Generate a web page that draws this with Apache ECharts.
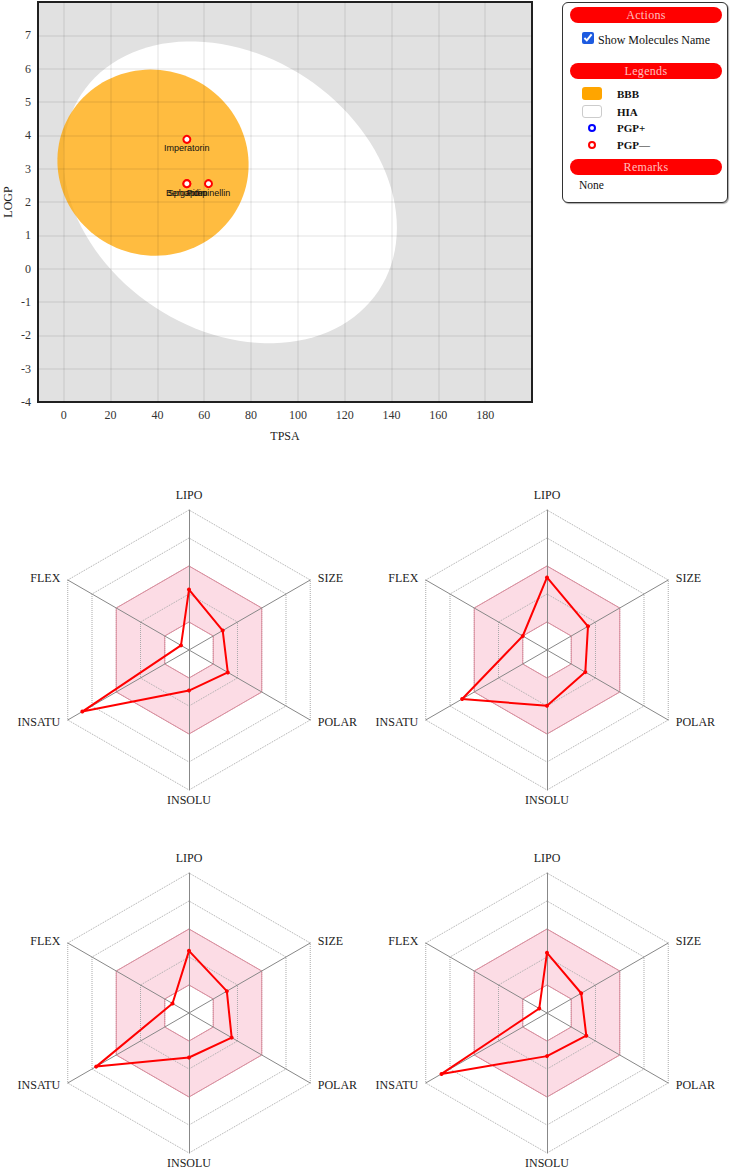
<!DOCTYPE html>
<html>
<head>
<meta charset="utf-8">
<title>BOILED-Egg and bioavailability radar</title>
<script src="https://cdn.jsdelivr.net/npm/echarts@6/dist/echarts.min.js"></script>
<style>
  html, body { margin: 0; padding: 0; background: #fff; }
  #chart { position: absolute; left: 0; top: 0; width: 730px; height: 1169px; }
  .panel {
    position: absolute; left: 562px; top: 2px; width: 166px; height: 201px;
    box-sizing: border-box; border: 1px solid #333; border-radius: 6px;
    box-shadow: 1px 1px 1px rgba(0, 0, 0, 0.35);
    background: #fff; color: #111;
    font-family: 'Liberation Serif', 'DejaVu Serif', serif; font-size: 11px;
  }
  .panel .bar {
    position: absolute; left: 7px; width: 152px; height: 16px; line-height: 16px;
    border-radius: 8px; background: #ff0000; color: rgba(255, 255, 255, 0.75);
    text-align: center; font-size: 12px; letter-spacing: 0.3px;
  }
  .panel .row { position: absolute; line-height: 14px; white-space: nowrap; }
  .panel .b { font-weight: bold; }
  .panel input { position: absolute; left: 19px; top: 29px; width: 12px; height: 12px; margin: 0; accent-color: #1d5be0; }
  .swatch { position: absolute; left: 19px; width: 20px; height: 13px; box-sizing: border-box; border-radius: 3px; }
  .ring { position: absolute; left: 25px; width: 8px; height: 8px; box-sizing: border-box; border-radius: 50%; border: 2px solid; background: #fff; }
</style>
</head>
<body>
<div id="chart"></div>

<div class="panel">
  <div class="bar" style="top:4px">Actions</div>
  <input type="checkbox" id="showNames" checked>
  <label class="row" for="showNames" style="left:35px;top:30px;font-size:12px">Show Molecules Name</label>

  <div class="bar" style="top:60px">Legends</div>
  <div class="swatch" style="top:84px;background:#ffa500"></div>
  <div class="row b" style="left:54px;top:84px">BBB</div>
  <div class="swatch" style="top:102px;background:#fff;border:1px solid #ccc"></div>
  <div class="row b" style="left:54px;top:102px">HIA</div>
  <div class="ring" style="top:121px;border-color:#0000ff"></div>
  <div class="row b" style="left:54px;top:118px">PGP+</div>
  <div class="ring" style="top:138px;border-color:#ff0000"></div>
  <div class="row b" style="left:54px;top:135px">PGP—</div>

  <div class="bar" style="top:156px">Remarks</div>
  <div class="row" style="left:16px;top:175px;font-size:11.5px">None</div>
</div>

<script>
// molecules placed on the egg
const molNames = ['Imperatorin', 'Bergapten', 'Sphondin', 'Pimpinellin']
const molTpsa = [52.58, 52.58, 52.58, 61.81]
const molLogp = [3.88, 2.55, 2.55, 2.55]

// egg regions: centre TPSA, centre LOGP, half axis (TPSA), half axis (LOGP), tilt deg
const hiaEllipse = [71.05, 2.29, 76.1, 4.12, 33.5]
const bbbEllipse = [38.12, 3.18, 41.0, 2.78, 20]

// radar axes in the order echarts lays them out (counter-clockwise from top)
const radarAxes = ['LIPO', 'FLEX', 'INSATU', 'INSOLU', 'POLAR', 'SIZE']
const radarMol1 = [2.16, 0.33, 4.40, 1.45, 1.60, 1.39]
const radarMol2 = [2.59, 1.00, 3.50, 1.99, 1.58, 1.69]
const radarMol3 = [2.22, 0.68, 3.83, 1.59, 1.76, 1.56]
const radarMol4 = [2.15, 0.32, 4.35, 1.54, 1.62, 1.41]

const SERIF = "'Liberation Serif', 'DejaVu Serif', serif"
const SANS = "'Liberation Sans', Arial, sans-serif"
const PINK = 'rgba(236, 60, 110, 0.18)'
const ROSE = '#de8a9c'
const NONE = 'rgba(0,0,0,0)'

const chart = echarts.init(document.getElementById('chart'), null, { renderer: 'svg' })

// ellipse drawn in pixel space so the tilt is the on-screen one
function renderEllipse (params, api) {
  const c = api.coord([api.value(0), api.value(1)])
  const s = api.size([api.value(2), api.value(3)])
  const rot = api.value(4) * Math.PI / 180
  const pts = []
  for (let i = 0; i < 120; i++) {
    const t = i / 120 * Math.PI * 2
    const ex = s[0] * Math.cos(t)
    const ey = s[1] * Math.sin(t)
    pts.push([
      c[0] + ex * Math.cos(rot) - ey * Math.sin(rot),
      c[1] + ex * Math.sin(rot) + ey * Math.cos(rot)
    ])
  }
  return { type: 'polygon', shape: { points: pts }, style: api.style() }
}

const radarCenters = [[189, 650], [547, 650], [189, 1013], [547, 1013]]
const radarValues = [radarMol1, radarMol2, radarMol3, radarMol4]
const indicator = radarAxes.map(n => ({ name: n, min: 0, max: 5 }))

const radars = []
radarCenters.forEach(center => {
  radars.push({
    center, radius: 140, startAngle: 90, splitNumber: 5, shape: 'polygon',
    indicator,
    nameGap: 4,
    axisName: { color: '#222', fontFamily: SERIF, fontSize: 12, lineHeight: 12, padding: [0, 4, 5, 4] },
    axisLine: { lineStyle: { color: '#888', width: 1 } },
    splitLine: { lineStyle: { color: '#aaa', type: 'dotted', width: 1 } },
    splitArea: { show: true, areaStyle: { color: [NONE, PINK, PINK, NONE, NONE] } }
  })
  // rose borders of the optimal band
  radars.push({
    center, radius: 140, startAngle: 90, splitNumber: 5, shape: 'polygon',
    indicator,
    axisName: { show: false },
    axisLine: { show: false },
    splitArea: { show: false },
    splitLine: { lineStyle: { color: [NONE, ROSE, NONE, ROSE, NONE, NONE], width: 1 } }
  })
})

const radarSeries = radarValues.map((vals, i) => ({
  type: 'radar',
  radarIndex: i * 2,
  z: 5,
  symbol: 'circle',
  symbolSize: 4,
  itemStyle: { color: '#ff0000' },
  lineStyle: { color: '#ff0000', width: 2 },
  data: [{ value: vals }]
}))

chart.setOption({
  animation: false,
  grid: {
    left: 38, top: 2, width: 494, height: 400, show: true,
    outerBoundsMode: 'none',
    backgroundColor: '#e1e1e1', borderColor: '#222', borderWidth: 2
  },
  xAxis: {
    type: 'value', min: -11, max: 200, splitNumber: 10, z: 3,
    name: 'TPSA', nameLocation: 'middle', nameGap: 28, nameMoveOverlap: false,
    nameTextStyle: { color: '#222', fontFamily: SERIF, fontSize: 12 },
    axisLine: { show: false },
    axisTick: { show: false },
    axisLabel: { margin: 7, color: '#333', fontFamily: SERIF, fontSize: 12, showMinLabel: false, showMaxLabel: false },
    splitLine: { lineStyle: { color: 'rgba(0,0,0,0.075)', width: 1.5 } }
  },
  yAxis: {
    type: 'value', min: -4, max: 8, interval: 1, z: 3,
    name: 'LOGP', nameLocation: 'middle', nameGap: 24, nameMoveOverlap: false,
    nameTextStyle: { color: '#222', fontFamily: SERIF, fontSize: 12 },
    axisLine: { show: false },
    axisTick: { show: false },
    axisLabel: { margin: 7, color: '#333', fontFamily: SERIF, fontSize: 12, showMaxLabel: false },
    splitLine: { lineStyle: { color: 'rgba(0,0,0,0.075)', width: 1.5 } }
  },
  radar: radars,
  series: [
    {
      name: 'HIA', type: 'custom', renderItem: renderEllipse, z: 1,
      itemStyle: { color: '#ffffff' },
      encode: { x: 0, y: 1 },
      data: [hiaEllipse]
    },
    {
      name: 'BBB', type: 'custom', renderItem: renderEllipse, z: 2,
      itemStyle: { color: '#ffa500', opacity: 0.75 },
      encode: { x: 0, y: 1 },
      data: [bbbEllipse]
    },
    {
      id: 'mols', name: 'PGP—', type: 'scatter', z: 6,
      symbol: 'circle', symbolSize: 7,
      itemStyle: { color: '#fff', borderColor: '#ff0000', borderWidth: 2, opacity: 1 },
      label: { show: true, position: 'bottom', distance: 0, formatter: '{b}', color: '#111', fontSize: 9, fontFamily: SANS },
      data: molNames.map((n, i) => ({ name: n, value: [molTpsa[i], molLogp[i]] }))
    },
    ...radarSeries
  ]
})

document.getElementById('showNames').addEventListener('change', e => {
  chart.setOption({ series: [{ id: 'mols', label: { show: e.target.checked } }] })
})
</script>
</body>
</html>
